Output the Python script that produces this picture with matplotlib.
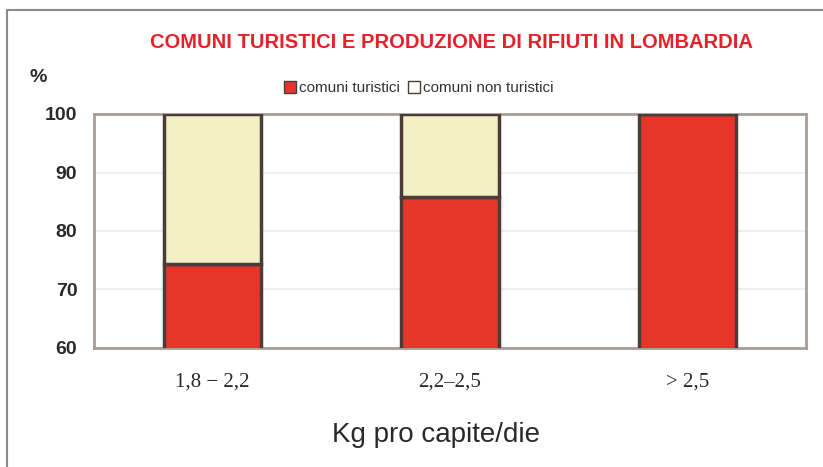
import numpy as np
import matplotlib.pyplot as plt
import matplotlib.patches as patches

# Dati
categorie = ["1,8 \u2212 2,2", "2,2\u20132,5", "> 2,5"]
turistici = [74.4, 85.8, 100.0]
non_turistici = [25.6, 14.2, 0.0]
y_ticks = [60, 70, 80, 90, 100]

ROSSO = "#e8352a"
CREMA = "#f2efc4"
BORDO = "#4a3c38"
ASSE = "#a99c99"

plt.rcParams["font.family"] = ["Liberation Sans", "DejaVu Sans"]

fig = plt.figure(figsize=(8.23, 4.67), dpi=100)
W, H = 823, 467
ax = fig.add_axes([94 / W, 1 - 348 / H, (806 - 94) / W, (348 - 114) / H])

x = np.arange(len(categorie))
ax.bar(x, turistici, width=0.41, bottom=0, color=ROSSO, edgecolor=BORDO,
       linewidth=2.5, zorder=3)
ax.bar(x, non_turistici, width=0.41, bottom=turistici, color=CREMA,
       edgecolor=BORDO, linewidth=2.5, zorder=3)

ax.set_xlim(-0.5, 2.5)
ax.set_ylim(60, 100)
ax.set_yticks(y_ticks)
ax.set_yticklabels([str(v) for v in y_ticks], fontsize=14, fontweight="bold",
                   color="#2a2a2a")
ax.set_xticks(x)
ax.set_xticklabels(categorie, fontsize=15, family="Liberation Serif",
                   color="#2a2a2a")
ax.tick_params(axis="x", length=0, pad=18)
ax.tick_params(axis="y", length=0, pad=12)
ax.yaxis.grid(True, color="#eeeeee", linewidth=1.5, zorder=0)

for s in ax.spines.values():
    s.set_color(ASSE)
    s.set_linewidth(2)

ax.set_xlabel("Kg pro capite/die", fontsize=20, color="#2a2a2a")
ax.xaxis.set_label_coords((436 - 94) / (806 - 94), -(435 - 348) / (348 - 114))
ax.xaxis.label.set_va("center")

# Titolo e "%"
fig.text(451 / W, 1 - 43 / H, "COMUNI TURISTICI E PRODUZIONE DI RIFIUTI IN LOMBARDIA",
         ha="center", va="center", fontsize=14.5, fontweight="bold", color="#e8202a")
fig.text(38 / W, 1 - 78 / H, "%", ha="center", va="center", fontsize=14,
         fontweight="bold", color="#2a2a2a")

# Legenda
handles = [patches.Patch(facecolor=ROSSO, edgecolor=BORDO, label="comuni turistici"),
           patches.Patch(facecolor="white", edgecolor=BORDO, label="comuni non turistici")]
leg = fig.legend(handles=handles, loc="center", bbox_to_anchor=(419 / W, 1 - 88 / H),
                 ncol=2, frameon=False, handlelength=0.8, handleheight=0.8,
                 handletextpad=0.2, columnspacing=0.5,
                 prop={"size": 11})
for t in leg.get_texts():
    t.set_color("#333333")

# Cornice esterna
fig.patches.append(patches.Rectangle((7 / W, -0.1), 1.2, 1 - 10 / H + 0.1,
                                     transform=fig.transFigure, fill=False,
                                     edgecolor="#8a8a8a", linewidth=1.5))

fig.savefig("out.png", dpi=100)
